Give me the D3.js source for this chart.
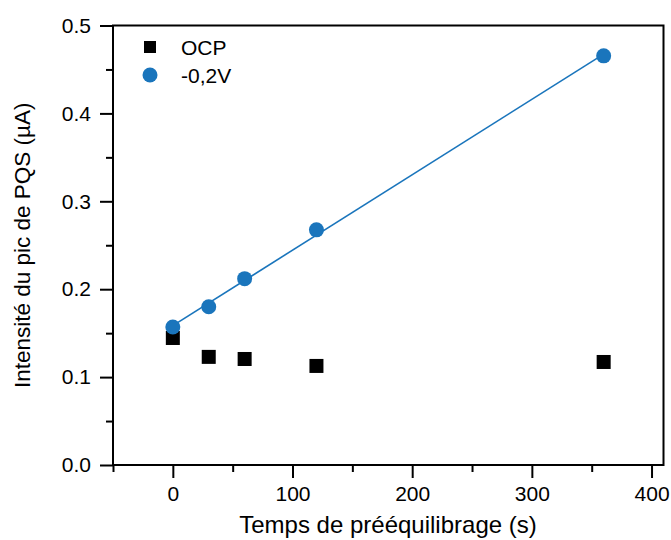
<!DOCTYPE html>
<html><head><meta charset="utf-8">
<script src="https://cdn.jsdelivr.net/npm/d3@7"></script>
<style>body{margin:0;background:#fff}svg{display:block}text{font-family:"Liberation Sans",Arial,sans-serif}</style>
</head><body>
<svg id="c" width="671" height="540"></svg>
<script>
const timesS = [0, 30, 60, 120, 360];
const ocpValues = [0.1445, 0.123, 0.1206, 0.1127, 0.1172];
const v02Values = [0.157, 0.180, 0.212, 0.2675, 0.4655];
const seriesNames = ["OCP", "-0,2V"];
const xTicks = [0, 100, 200, 300, 400];
const yTicks = [0.0, 0.1, 0.2, 0.3, 0.4, 0.5];
const xLabel = "Temps de prééquilibrage (s)";
const yLabel = "Intensité du pic de PQS (µA)";

const blue = "#1a75bc";
const svg = d3.select("#c");
const L = 113, R = 663.5, T = 25.5, B = 465;
const x = d3.scaleLinear().domain([-50, 410]).range([L, R]);
const y = d3.scaleLinear().domain([0, 0.5]).range([B, T]);

svg.append("rect").attr("x", L).attr("y", T).attr("width", R - L).attr("height", B - T)
  .attr("fill", "none").attr("stroke", "#000").attr("stroke-width", 2);

svg.append("g").attr("transform", `translate(0,${B})`)
  .call(d3.axisBottom(x).tickValues(xTicks).tickFormat(d3.format("d")).tickSize(13).tickPadding(8));
svg.append("g").attr("transform", `translate(0,${B})`)
  .call(d3.axisBottom(x).tickValues([-50, 50, 150, 250, 350]).tickFormat("").tickSize(7));
svg.append("g").attr("transform", `translate(${L},0)`)
  .call(d3.axisLeft(y).tickValues(yTicks).tickFormat(d3.format(".1f")).tickSize(13).tickPadding(9));
svg.append("g").attr("transform", `translate(${L},0)`)
  .call(d3.axisLeft(y).tickValues([0.05, 0.15, 0.25, 0.35, 0.45]).tickFormat("").tickSize(7));
svg.selectAll(".domain").remove();
svg.selectAll(".tick line").attr("stroke", "#000").attr("stroke-width", 2);
svg.selectAll(".tick text").attr("font-size", 21).attr("fill", "#000")
  .attr("font-family", '"Liberation Sans",Arial,sans-serif');

const mx = d3.mean(timesS), my = d3.mean(v02Values);
const slope = d3.sum(timesS, (t, i) => (t - mx) * (v02Values[i] - my)) / d3.sum(timesS, t => (t - mx) ** 2);
const icpt = my - slope * mx;
const fitX = d3.extent(timesS);
svg.append("line")
  .attr("x1", x(fitX[0])).attr("y1", y(icpt + slope * fitX[0]))
  .attr("x2", x(fitX[1])).attr("y2", y(icpt + slope * fitX[1]))
  .attr("stroke", blue).attr("stroke-width", 1.6);

const sq = 14;
svg.append("g").selectAll("rect").data(timesS).join("rect")
  .attr("x", (d) => x(d) - sq / 2).attr("y", (d, i) => y(ocpValues[i]) - sq / 2)
  .attr("width", sq).attr("height", sq).attr("fill", "#000");
svg.append("g").selectAll("circle").data(timesS).join("circle")
  .attr("cx", d => x(d)).attr("cy", (d, i) => y(v02Values[i])).attr("r", 7.5).attr("fill", blue);

const lg = svg.append("g");
lg.append("rect").attr("x", 144).attr("y", 41).attr("width", 12).attr("height", 12).attr("fill", "#000");
lg.append("circle").attr("cx", 150).attr("cy", 75).attr("r", 7.5).attr("fill", blue);
lg.append("text").attr("x", 181).attr("y", 55).attr("font-size", 21).text(seriesNames[0]);
lg.append("text").attr("x", 181).attr("y", 83).attr("font-size", 21).text(seriesNames[1]);

svg.append("text").attr("x", 388).attr("y", 533).attr("text-anchor", "middle")
  .attr("font-size", 24).text(xLabel);
svg.append("text").attr("transform", `translate(30,${(T + B) / 2}) rotate(-90)`)
  .attr("text-anchor", "middle").attr("font-size", 22.5).text(yLabel);
</script>
</body></html>
